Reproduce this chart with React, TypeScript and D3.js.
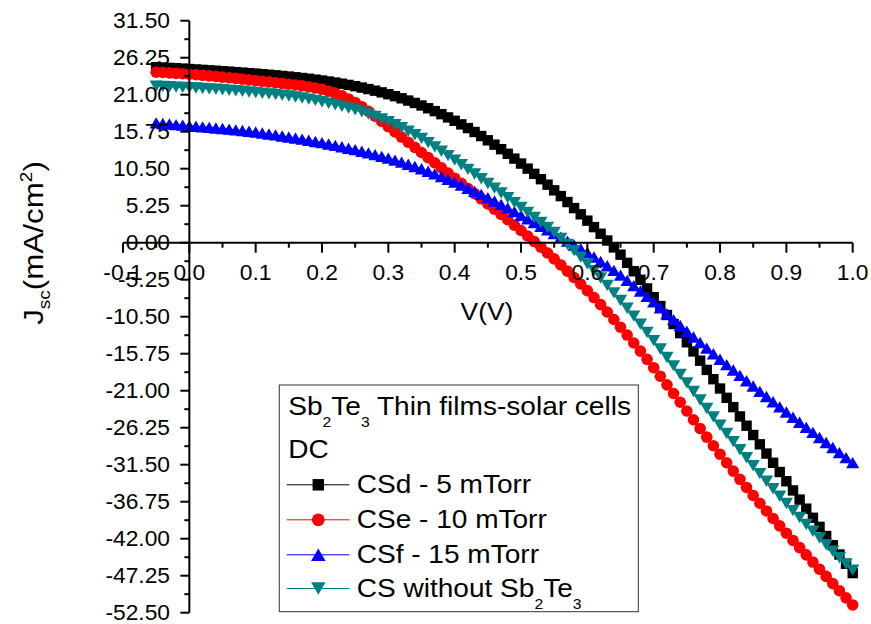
import React from "react";
import * as d3 from "d3";

// Bias voltage sweep (V)
const voltage: number[] = [
  -0.05, -0.04, -0.03, -0.02, -0.01, 0.0, 0.01, 0.02, 0.03, 0.04,
  0.05, 0.06, 0.07, 0.08, 0.09, 0.1, 0.11, 0.12, 0.13, 0.14,
  0.15, 0.16, 0.17, 0.18, 0.19, 0.2, 0.21, 0.22, 0.23, 0.24,
  0.25, 0.26, 0.27, 0.28, 0.29, 0.3, 0.31, 0.32, 0.33, 0.34,
  0.35, 0.36, 0.37, 0.38, 0.39, 0.4, 0.41, 0.42, 0.43, 0.44,
  0.45, 0.46, 0.47, 0.48, 0.49, 0.5, 0.51, 0.52, 0.53, 0.54,
  0.55, 0.56, 0.57, 0.58, 0.59, 0.6, 0.61, 0.62, 0.63, 0.64,
  0.65, 0.66, 0.67, 0.68, 0.69, 0.7, 0.71, 0.72, 0.73, 0.74,
  0.75, 0.76, 0.77, 0.78, 0.79, 0.8, 0.81, 0.82, 0.83, 0.84,
  0.85, 0.86, 0.87, 0.88, 0.89, 0.9, 0.91, 0.92, 0.93, 0.94,
  0.95, 0.96, 0.97, 0.98, 0.99, 1.0,
];

// Current density (mA/cm^2) for each cell
const csd5mTorr: number[] = [
  24.9, 24.85, 24.8, 24.75, 24.7, 24.64, 24.58, 24.52, 24.46, 24.4,
  24.33, 24.27, 24.2, 24.13, 24.06, 23.99, 23.91, 23.83, 23.75, 23.66,
  23.57, 23.47, 23.37, 23.26, 23.14, 23.01, 22.87, 22.72, 22.56, 22.39,
  22.21, 22.01, 21.8, 21.57, 21.33, 21.07, 20.79, 20.49, 20.17, 19.83,
  19.47, 19.08, 18.67, 18.24, 17.78, 17.3, 16.79, 16.26, 15.71, 15.13,
  14.53, 13.91, 13.27, 12.61, 11.93, 11.23, 10.51, 9.77, 9.01, 8.23,
  7.43, 6.61, 5.77, 4.91, 4.03, 3.13, 2.21, 1.27, 0.31, -0.67,
  -1.7, -2.86, -4.05, -5.26, -6.49, -7.73, -8.99, -10.26, -11.54, -12.83,
  -14.13, -15.43, -16.74, -18.05, -19.37, -20.69, -22.01, -23.33, -24.65, -25.97,
  -27.29, -28.61, -29.92, -31.23, -32.54, -33.85, -35.15, -36.45, -37.74, -39.03,
  -40.32, -41.62, -42.93, -44.24, -45.56, -46.88,
];

const cse10mTorr: number[] = [
  24.2, 24.15, 24.09, 24.03, 23.97, 23.9, 23.83, 23.75, 23.67, 23.59,
  23.5, 23.41, 23.31, 23.21, 23.11, 23.0, 22.9, 22.8, 22.7, 22.6,
  22.49, 22.38, 22.26, 22.12, 21.95, 21.75, 21.5, 21.2, 20.85, 20.4,
  19.9, 19.3, 18.65, 17.95, 17.2, 16.45, 15.72, 14.99, 14.26, 13.53,
  12.8, 12.07, 11.34, 10.61, 9.88, 9.15, 8.42, 7.69, 6.96, 6.23,
  5.49, 4.75, 4.01, 3.26, 2.5, 1.73, 0.95, 0.16, -0.64, -1.46,
  -2.3, -3.16, -4.04, -4.94, -5.86, -6.8, -7.78, -8.79, -9.83, -10.9,
  -11.99, -13.1, -14.23, -15.38, -16.55, -17.74, -18.95, -20.17, -21.4, -22.64,
  -23.88, -25.12, -26.36, -27.59, -28.81, -30.02, -31.22, -32.41, -33.58, -34.73,
  -35.86, -36.97, -38.06, -39.13, -40.18, -41.22, -42.25, -43.27, -44.29, -45.31,
  -46.33, -47.35, -48.37, -49.38, -50.39, -51.4,
];

const csf15mTorr: number[] = [
  17.0, 16.92, 16.84, 16.76, 16.68, 16.6, 16.52, 16.44, 16.36, 16.28,
  16.2, 16.11, 16.01, 15.91, 15.81, 15.7, 15.57, 15.43, 15.3, 15.15,
  15.0, 14.85, 14.7, 14.53, 14.37, 14.2, 14.01, 13.81, 13.61, 13.41,
  13.2, 12.97, 12.74, 12.5, 12.25, 12.0, 11.72, 11.43, 11.13, 10.82,
  10.5, 10.14, 9.77, 9.39, 9.0, 8.6, 8.17, 7.73, 7.29, 6.85,
  6.4, 5.92, 5.43, 4.93, 4.42, 3.9, 3.38, 2.86, 2.34, 1.82,
  1.3, 0.77, 0.23, -0.32, -0.86, -1.4, -2.02, -2.65, -3.28, -3.93,
  -4.6, -5.34, -6.09, -6.85, -7.62, -8.4, -9.24, -10.08, -10.91, -11.74,
  -12.56, -13.37, -14.17, -14.96, -15.75, -16.53, -17.3, -18.07, -18.83, -19.59,
  -20.34, -21.09, -21.83, -22.57, -23.3, -24.03, -24.76, -25.48, -26.2, -26.92,
  -27.64, -28.36, -29.07, -29.78, -30.49, -31.2,
];

const csWithoutSb2Te3: number[] = [
  22.2, 22.16, 22.12, 22.08, 22.04, 22.0, 21.95, 21.89, 21.83, 21.77,
  21.7, 21.63, 21.56, 21.48, 21.39, 21.3, 21.21, 21.12, 21.02, 20.92,
  20.81, 20.68, 20.53, 20.37, 20.19, 20.0, 19.79, 19.57, 19.34, 19.1,
  18.85, 18.56, 18.24, 17.9, 17.55, 17.18, 16.76, 16.3, 15.82, 15.32,
  14.8, 14.2, 13.6, 12.98, 12.35, 11.72, 11.07, 10.41, 9.75, 9.08,
  8.41, 7.74, 7.06, 6.38, 5.69, 5.0, 4.3, 3.6, 2.89, 2.17,
  1.45, 0.62, -0.24, -1.13, -2.05, -3.0, -3.98, -5.0, -6.05, -7.12,
  -8.2, -9.3, -10.42, -11.56, -12.72, -13.9, -15.09, -16.28, -17.48, -18.69,
  -19.9, -21.11, -22.32, -23.52, -24.71, -25.9, -27.07, -28.23, -29.38, -30.52,
  -31.65, -32.76, -33.85, -34.92, -35.97, -37.0, -38.01, -39.0, -39.98, -40.95,
  -41.91, -42.86, -43.79, -44.7, -45.59, -46.46,
];

const seriesNames: string[] = [
  "CSd - 5 mTorr",
  "CSe - 10 mTorr",
  "CSf - 15 mTorr",
  "CS without Sb2Te3",
];
const seriesColors: string[] = ["#000000", "#ff0000", "#0000ff", "#008080"];
const seriesShapes: string[] = ["square", "circle", "triangleUp", "triangleDown"];
const seriesValues: number[][] = [csd5mTorr, cse10mTorr, csf15mTorr, csWithoutSb2Te3];

const xTickValues: number[] = [-0.1, 0.0, 0.1, 0.2, 0.3, 0.4, 0.5, 0.6, 0.7, 0.8, 0.9, 1.0];
const xTickLabels: string[] = ["-0.1", "0.0", "0.1", "0.2", "0.3", "0.4", "0.5", "0.6", "0.7", "0.8", "0.9", "1.0"];
const yTickValues: number[] = [
  31.5, 26.25, 21.0, 15.75, 10.5, 5.25, 0.0, -5.25, -10.5, -15.75, -21.0, -26.25,
  -31.5, -36.75, -42.0, -47.25, -52.5,
];
const yTickLabels: string[] = [
  "31.50", "26.25", "21.00", "15.75", "10.50", "5.25", "0.00", "-5.25", "-10.50",
  "-15.75", "-21.00", "-26.25", "-31.50", "-36.75", "-42.00", "-47.25", "-52.50",
];

const W = 871;
const H = 624;
const FONT = "'Liberation Sans', Arial, Helvetica, sans-serif";

const x = d3.scaleLinear().domain([-0.1, 1.0]).range([123, 852.7]);
const y = d3.scaleLinear().domain([-52.5, 31.5]).range([612.7, 20.7]);

// Marker outline centred on (cx, cy)
function Marker(props: { shape: string; cx: number; cy: number; color: string; scale?: number }) {
  const { shape, cx, cy, color, scale = 1 } = props;
  if (shape === "circle") return <circle cx={cx} cy={cy} r={5.8 * scale} fill={color} />;
  if (shape === "square") {
    const h = 5.2 * scale;
    return <rect x={cx - h} y={cy - h} width={2 * h} height={2 * h} fill={color} />;
  }
  const hw = 6.6 * scale;
  const hh = 5.7 * scale;
  const d =
    shape === "triangleUp"
      ? `M${cx},${cy - hh}L${cx + hw},${cy + hh}L${cx - hw},${cy + hh}Z`
      : `M${cx},${cy + hh}L${cx + hw},${cy - hh}L${cx - hw},${cy - hh}Z`;
  return <path d={d} fill={color} />;
}

// Text stretched slightly along its baseline
function SText(props: {
  x: number;
  y: number;
  size: number;
  sx?: number;
  anchor?: string;
  rotate?: number;
  children: React.ReactNode;
}) {
  const { x: tx, y: ty, size, sx = 1, anchor = "start", rotate, children } = props;
  const tr = `translate(${tx},${ty})${rotate ? ` rotate(${rotate})` : ""} scale(${sx},1)`;
  return (
    <text transform={tr} textAnchor={anchor} fontSize={size} fontFamily={FONT} fill="#000">
      {children}
    </text>
  );
}

function Sb2Te3({ base }: { base: number }) {
  const sub = base * 0.56;
  const shift = base * 0.47;
  return (
    <>
      <tspan>Sb</tspan>
      <tspan fontSize={sub} dy={shift}>2</tspan>
      <tspan dy={-shift}>Te</tspan>
      <tspan fontSize={sub} dy={shift}>3</tspan>
    </>
  );
}

export default function App() {
  const y0 = y(0);
  const xAxisX = x(0);
  const line = d3
    .line<number>()
    .x((_d, i) => x(voltage[i]))
    .y((d) => y(d));

  const xMinor: number[] = xTickValues.slice(0, -1).map((v, i) => (v + xTickValues[i + 1]) / 2);
  const yMinor: number[] = yTickValues.slice(0, -1).map((v, i) => (v + yTickValues[i + 1]) / 2);

  const tickSize = 21.5;
  const tickSx = 1.06;

  const legX = 279.3;
  const legY = 385;
  const legW = 359;
  const legH = 226.7;
  const legFont = 25.5;
  const legSx = 1.1;
  const entryBaselines = [493.3, 528.3, 563.3, 597];

  return (
    <svg
      width={W}
      height={H}
      viewBox={`0 0 ${W} ${H}`}
      style={{ position: "absolute", left: 0, top: 0, background: "#fff" }}
    >
      <rect x={0} y={0} width={W} height={H} fill="#fff" />

      {/* data series */}
      {seriesValues.map((vals, si) => (
        <g key={si}>
          <path d={line(vals) as string} fill="none" stroke={seriesColors[si]} strokeWidth={1} />
          {vals.map((v, i) => (
            <Marker key={i} shape={seriesShapes[si]} cx={x(voltage[i])} cy={y(v)} color={seriesColors[si]} />
          ))}
        </g>
      ))}

      {/* y axis */}
      <line x1={xAxisX} x2={xAxisX} y1={y(31.5)} y2={y(-52.5)} stroke="#000" strokeWidth={2} />
      {yTickValues.map((v, i) => (
        <g key={`yt${i}`}>
          <line x1={xAxisX - 9} x2={xAxisX} y1={y(v)} y2={y(v)} stroke="#000" strokeWidth={2} />
          <SText x={170} y={y(v) + 7.6} size={tickSize} sx={tickSx} anchor="end">
            {yTickLabels[i]}
          </SText>
        </g>
      ))}
      {yMinor.map((v, i) => (
        <line key={`ym${i}`} x1={xAxisX - 5} x2={xAxisX} y1={y(v)} y2={y(v)} stroke="#000" strokeWidth={2} />
      ))}

      {/* x axis along J = 0 */}
      <line x1={x(-0.1)} x2={x(1.0)} y1={y0} y2={y0} stroke="#000" strokeWidth={2} />
      {xTickValues.map((v, i) => (
        <g key={`xt${i}`}>
          <line x1={x(v)} x2={x(v)} y1={y0} y2={y0 + 10} stroke="#000" strokeWidth={2} />
          <SText x={x(v)} y={280} size={tickSize} sx={tickSx} anchor="middle">
            {xTickLabels[i]}
          </SText>
        </g>
      ))}
      {xMinor.map((v, i) => (
        <line key={`xm${i}`} x1={x(v)} x2={x(v)} y1={y0} y2={y0 + 5} stroke="#000" strokeWidth={2} />
      ))}

      {/* axis titles */}
      <SText x={487} y={320} size={24} sx={1.1} anchor="middle">
        V(V)
      </SText>
      <SText x={43} y={243} size={28} sx={1.12} anchor="middle" rotate={-90}>
        <tspan>J</tspan>
        <tspan fontSize={17} dy={7}>sc</tspan>
        <tspan dy={-7}>(mA/cm</tspan>
        <tspan fontSize={17} dy={-11}>2</tspan>
        <tspan dy={11}>)</tspan>
      </SText>

      {/* legend */}
      <rect x={legX} y={legY} width={legW} height={legH} fill="#fff" stroke="#333" strokeWidth={1} />
      <SText x={288.3} y={415} size={legFont} sx={legSx}>
        <Sb2Te3 base={legFont} />
        <tspan dy={-legFont * 0.47}> Thin films-solar cells</tspan>
      </SText>
      <SText x={288.3} y={458.3} size={legFont} sx={legSx}>
        DC
      </SText>
      {seriesNames.map((name, si) => {
        const by = entryBaselines[si];
        const cy = by - 8.5;
        return (
          <g key={`lg${si}`}>
            <line x1={286.7} x2={349.3} y1={cy} y2={cy} stroke={seriesColors[si]} strokeWidth={1} />
            <Marker shape={seriesShapes[si]} cx={318.3} cy={cy} color={seriesColors[si]} scale={1.1} />
            <SText x={356.7} y={by} size={legFont} sx={legSx}>
              {si === 3 ? (
                <>
                  <tspan>CS without </tspan>
                  <Sb2Te3 base={legFont} />
                </>
              ) : (
                name
              )}
            </SText>
          </g>
        );
      })}
    </svg>
  );
}
